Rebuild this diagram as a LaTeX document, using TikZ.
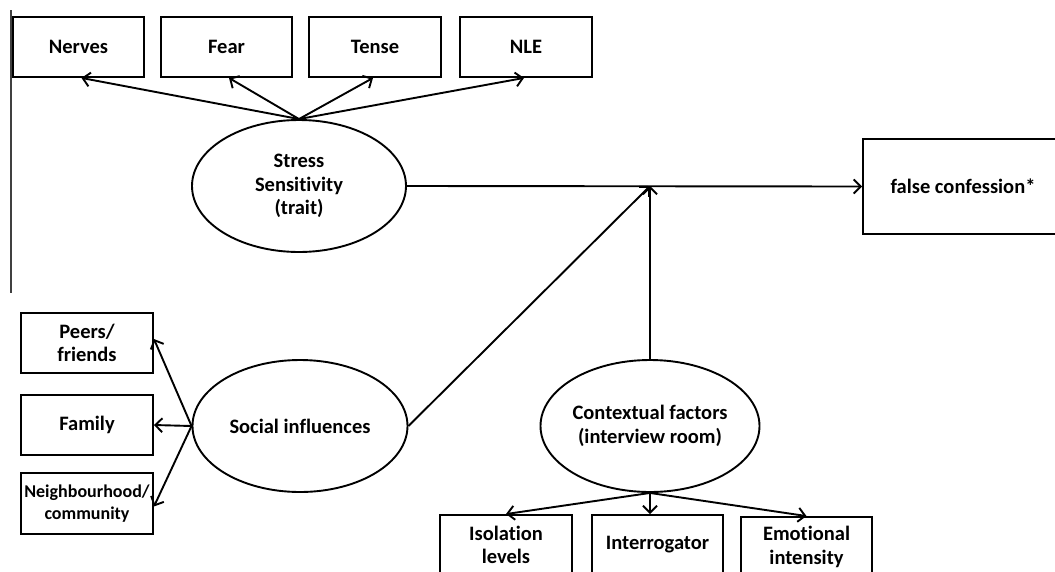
\documentclass[tikz,border=0pt]{standalone}
\usepackage{fontspec}
\setmainfont{Carlito}[Ligatures=NoCommon]
\usetikzlibrary{arrows.meta,shapes.geometric,calc}
\tikzset{
  box/.style={draw=black, line width=1.9pt, rectangle, minimum height=60pt, minimum width=131pt, inner sep=2pt, align=center, font=\fontsize{20.5}{23.5}\selectfont\bfseries},
  oval/.style={draw=black, line width=1.9pt, ellipse, minimum width=214pt, minimum height=132pt, inner sep=0pt, align=center, font=\fontsize{20.5}{23.5}\selectfont\bfseries},
  arr/.style={line width=1.9pt, -{Straight Barb[length=7pt,width=14pt]}},
}
\begin{document}
\begin{tikzpicture}[x=1pt,y=-1pt]
\clip (0,0) rectangle (1055,571);
\fill[white] (0,0) rectangle (1055,571);
% left vertical rule
\coordinate (r1) at (11,10);
\coordinate (r2) at (11,293);
\draw[line width=1.4pt, black!75] (r1) -- (r2);
% top boxes
\node[box] (nerves) at (78.5,47) {Nerves};
\node[box] (fear) at (226.5,47) {Fear};
\node[box, minimum width=132pt] (tense) at (375,47) {Tense};
\node[box, minimum width=132pt] (nle) at (526,47) {NLE};
% ellipses
\node[oval] (stress) at (299,186) {Stress\\Sensitivity\\(trait)};
\node[oval, minimum width=215pt] (social) at (300,426) {Social influences};
\node[oval, minimum width=212pt] (context) at (650,426) {Contextual factors\\(interview room)};
% outcome
\node[box, minimum width=200pt, minimum height=95pt] (false) at (963,186.5) {false confession*};
% left boxes
\node[box, minimum width=132pt] (peers) at (87,343) {Peers/\\friends};
\node[box, minimum width=132pt] (family) at (87,425) {Family};
\node[box, minimum width=132pt, minimum height=61pt, font=\fontsize{18}{22}\selectfont\bfseries] (neigh) at (87,503.5) {Neighbourhood/\\community};
% bottom boxes
\node[box, minimum width=132pt] (isol) at (506,545) {Isolation\\levels};
\node[box] (interr) at (657.5,545) {Interrogator};
\node[box] (emot) at (806.5,547) {Emotional\\intensity};
% junction
\coordinate (J) at (650,186);
% connectors
\draw[arr] (stress.north) -- ([xshift=3pt]nerves.south);
\draw[arr] (stress.north) -- ([xshift=2.5pt]fear.south);
\draw[arr] (stress.north) -- ([xshift=-2pt]tense.south);
\draw[arr] (stress.north) -- ([xshift=-2pt]nle.south);
\draw[arr] (stress.east) -- (false.west);
\draw[arr] (social.east) -- (J);
\draw[arr] (context.north) -- (J);
\draw[arr] (social.west) -- ([yshift=4pt]peers.east);
\draw[arr] (social.west) -- (family.east);
\draw[arr] (social.west) -- ([yshift=-3pt]neigh.east);
\draw[arr] (context.south) -- (isol.north);
\draw[arr] (context.south) -- (context.south |- interr.north);
\draw[arr] (context.south) -- (emot.north);
\end{tikzpicture}
\end{document}
